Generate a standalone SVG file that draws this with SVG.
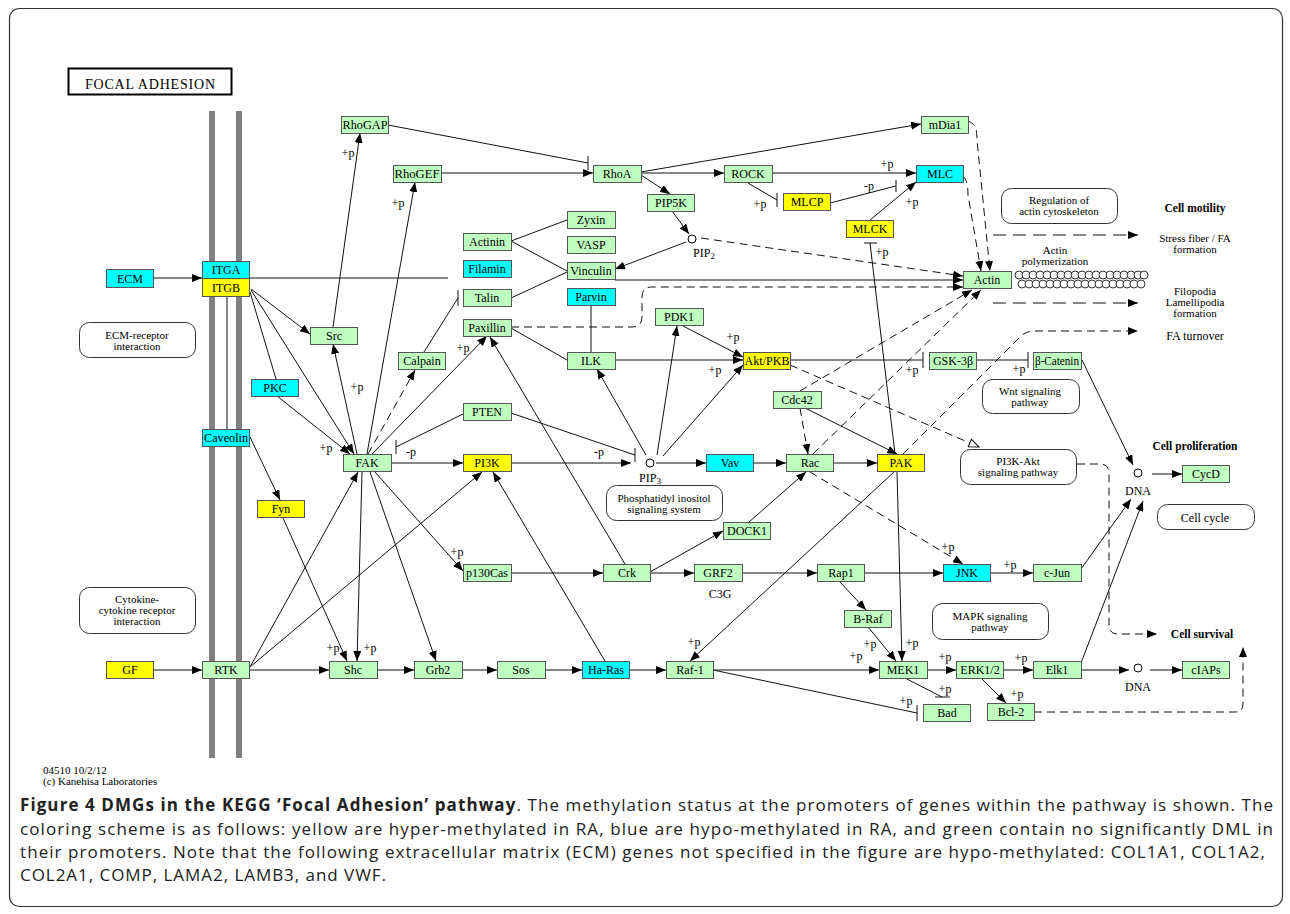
<svg xmlns="http://www.w3.org/2000/svg" width="1290" height="914" viewBox="0 0 1290 914">
<style>
.g{fill:#bfffbf}.c{fill:#00ffff}.y{fill:#ffff00}
.n rect{stroke:#555;stroke-width:1}
text{font-family:"Liberation Serif",serif;font-size:12px;text-anchor:middle;fill:#000}
.s{font-size:11px}
.b{font-weight:bold;font-size:11.5px}
.e line,.e path{stroke:#111;stroke-width:1;fill:none}
.e .d{stroke-dasharray:8,5}
.e .dl{stroke-dasharray:13,7}
.a{marker-end:url(#ar)}
.o{marker-end:url(#op)}
.rb{fill:#fff;stroke:#333;stroke-width:1}
.cap{font-family:"Open Sans",sans-serif;font-size:17px;text-anchor:start;fill:#222}
</style>
<defs>
<marker id="ar" viewBox="0 0 10 8" refX="10" refY="4" markerWidth="10" markerHeight="8" orient="auto" markerUnits="userSpaceOnUse"><path d="M0,0 L10,4 L0,8 z" fill="#000"/></marker>
<marker id="op" viewBox="0 0 12 10" refX="11" refY="5" markerWidth="12" markerHeight="10" orient="auto" markerUnits="userSpaceOnUse"><path d="M1,1 L11,5 L1,9 z" fill="#fff" stroke="#000"/></marker>
</defs>
<rect x="0" y="0" width="1290" height="914" fill="#fff"/>
<rect x="9.5" y="8.5" width="1273" height="898" rx="10" fill="none" stroke="#333" stroke-width="1.2"/>

<g id="title">
<rect x="68.5" y="68.5" width="163" height="26" fill="#fff" stroke="#000" stroke-width="2"/>
<text x="150" y="89" style="font-size:14px" textLength="130" lengthAdjust="spacing">FOCAL ADHESION</text>
</g>

<g id="membrane">
<rect x="209" y="111" width="6" height="647" fill="#808080"/>
<rect x="236" y="111" width="6" height="647" fill="#808080"/>
</g>

<g id="pathways">
<rect class="rb" x="79.5" y="322.5" width="116" height="35" rx="10"/>
<text class="s" x="137" y="339">ECM-receptor</text><text class="s" x="137" y="350">interaction</text>
<rect class="rb" x="79.5" y="587.5" width="116" height="46" rx="10"/>
<text class="s" x="137" y="603">Cytokine-</text><text class="s" x="137" y="614">cytokine receptor</text><text class="s" x="137" y="625">interaction</text>
<rect class="rb" x="1001.5" y="188.5" width="116" height="35" rx="10"/>
<text class="s" x="1059" y="204">Regulation of</text><text class="s" x="1059" y="215">actin cytoskeleton</text>
<rect class="rb" x="982.5" y="379.5" width="97" height="34" rx="10"/>
<text class="s" x="1030" y="395">Wnt signaling</text><text class="s" x="1030" y="406">pathway</text>
<rect class="rb" x="960.5" y="449.5" width="116" height="35" rx="10"/>
<text class="s" x="1018" y="465">PI3K-Akt</text><text class="s" x="1018" y="476">signaling pathway</text>
<rect class="rb" x="606.5" y="485.5" width="116" height="35" rx="10"/>
<text class="s" x="664" y="502">Phosphatidyl inositol</text><text class="s" x="664" y="513">signaling system</text>
<rect class="rb" x="1157.5" y="504.5" width="97" height="25" rx="10"/>
<text x="1205" y="522">Cell cycle</text>
<rect class="rb" x="932.5" y="603.5" width="116" height="36" rx="10"/>
<text class="s" x="990" y="620">MAPK signaling</text><text class="s" x="990" y="631">pathway</text>
</g>

<g id="connectors" class="e">
<line class="a" x1="153" y1="278" x2="202" y2="278"/>
<line x1="249" y1="278" x2="448" y2="278"/>
<line class="a" x1="153" y1="670" x2="202" y2="670"/>
<line class="a" x1="249" y1="670" x2="329" y2="670"/>
<line class="a" x1="377" y1="670" x2="414" y2="670"/>
<line class="a" x1="462" y1="670" x2="497" y2="670"/>
<line class="a" x1="545" y1="670" x2="582" y2="670"/>
<line class="a" x1="629" y1="670" x2="666" y2="670"/>
<line class="a" x1="713" y1="670" x2="879" y2="670"/>
<line class="a" x1="927" y1="670" x2="956" y2="670"/>
<line class="a" x1="1003" y1="670" x2="1033" y2="670"/>
<line class="a" x1="1081" y1="670" x2="1129" y2="670"/>
<line class="a" x1="1150" y1="670" x2="1182" y2="670"/>
<line class="a" x1="511" y1="573" x2="603" y2="573"/>
<line class="a" x1="650" y1="573" x2="694" y2="573"/>
<line class="a" x1="742" y1="573" x2="817" y2="573"/>
<line class="a" x1="864" y1="573" x2="943" y2="573"/>
<line class="a" x1="990" y1="573" x2="1033" y2="573"/>
<line class="a" x1="840" y1="582" x2="866" y2="610"/>
<line class="a" x1="868" y1="627" x2="896" y2="661"/>
<line class="a" x1="897" y1="472" x2="902" y2="661"/>
<line class="a" x1="894" y1="472" x2="690" y2="661"/>
<line class="a" x1="981" y1="678" x2="1006" y2="703"/>
<line class="a" x1="1081" y1="569" x2="1131" y2="499"/>
<line class="a" x1="1081" y1="663" x2="1143" y2="501"/>
<line class="a" x1="1082" y1="360" x2="1133" y2="465"/>
<line class="a" x1="1152" y1="474" x2="1182" y2="474"/>
<line class="a" x1="250" y1="437" x2="280" y2="500"/>
<line class="a" x1="283" y1="518" x2="347" y2="661"/>
<line class="a" x1="362" y1="472" x2="357" y2="661"/>
<line class="a" x1="370" y1="472" x2="436" y2="661"/>
<line class="a" x1="375" y1="472" x2="463" y2="571"/>
<line class="a" x1="250" y1="667" x2="358" y2="472"/>
<line class="a" x1="250" y1="667" x2="482" y2="472"/>
<line class="a" x1="605" y1="661" x2="493" y2="472"/>
<line class="a" x1="625" y1="564" x2="490" y2="337"/>
<line class="a" x1="650" y1="572" x2="723" y2="531"/>
<line class="a" x1="749" y1="522" x2="806" y2="472"/>
<line class="a" x1="656" y1="463" x2="706" y2="463"/>
<line class="a" x1="753" y1="463" x2="786" y2="463"/>
<line class="a" x1="833" y1="463" x2="877" y2="463"/>
<line class="a" x1="805" y1="408" x2="897" y2="454"/>
<line class="a" x1="391" y1="463" x2="463" y2="463"/>
<line class="a" x1="511" y1="463" x2="631" y2="463"/>
<line class="a" x1="657" y1="455" x2="677" y2="326"/>
<line class="a" x1="663" y1="456" x2="743" y2="365"/>
<line class="a" x1="646" y1="455" x2="597" y2="369"/>
<line class="a" x1="683" y1="326" x2="743" y2="357"/>
<line class="a" x1="615" y1="360" x2="743" y2="360"/>
<line class="a" x1="672" y1="211" x2="689" y2="234"/>
<line class="a" x1="686" y1="242" x2="615" y2="269"/>
<line class="a" x1="441" y1="173" x2="593" y2="173"/>
<line class="a" x1="641" y1="173" x2="724" y2="173"/>
<line class="a" x1="641" y1="172" x2="921" y2="124"/>
<line class="a" x1="641" y1="175" x2="670" y2="194"/>
<line class="a" x1="772" y1="173" x2="916" y2="173"/>
<line class="a" x1="870" y1="220" x2="916" y2="182"/>
<line class="a" x1="333" y1="327" x2="360" y2="133"/>
<line class="a" x1="367" y1="454" x2="415" y2="182"/>
<line class="a" x1="357" y1="454" x2="333" y2="344"/>
<line class="a" x1="372" y1="454" x2="487" y2="336"/>
<line class="a" x1="251" y1="289" x2="310" y2="334"/>
<line class="a" x1="251" y1="290" x2="354" y2="454"/>
<line class="a" x1="277" y1="396" x2="350" y2="454"/>
<line x1="250" y1="292" x2="276" y2="379"/>
<line class="a" x1="615" y1="280" x2="963" y2="280"/>
<line x1="511" y1="241" x2="567" y2="220"/>
<line x1="511" y1="241" x2="567" y2="271"/>
<line x1="511" y1="298" x2="567" y2="272"/>
<line x1="511" y1="328" x2="567" y2="360"/>
<line x1="591" y1="305" x2="591" y2="352"/>
<line x1="227" y1="296" x2="227" y2="429"/>
<line x1="870" y1="243" x2="895" y2="454"/><line x1="864" y1="243" x2="877" y2="243"/>
<line x1="388" y1="125" x2="588" y2="163"/><line x1="588" y1="156" x2="588" y2="170"/>
<line x1="748" y1="183" x2="777" y2="200"/><line x1="777" y1="193" x2="777" y2="207"/>
<line x1="830" y1="203" x2="896" y2="186"/><line x1="896" y1="180" x2="896" y2="192"/>
<line x1="424" y1="352" x2="458" y2="298"/><line x1="458" y1="290" x2="458" y2="306"/>
<line x1="463" y1="414" x2="396" y2="447"/><line x1="396" y1="440" x2="396" y2="454"/>
<line x1="511" y1="413" x2="635" y2="455"/><line x1="635" y1="448" x2="635" y2="462"/>
<line x1="790" y1="360" x2="923" y2="360"/><line x1="923" y1="352" x2="923" y2="368"/>
<line x1="976" y1="360" x2="1028" y2="360"/><line x1="1028" y1="352" x2="1028" y2="368"/>
<line x1="713" y1="670" x2="917" y2="713"/><line x1="917" y1="705" x2="917" y2="721"/>
<line x1="905" y1="678" x2="942" y2="697"/><line x1="935" y1="697" x2="950" y2="697"/>
<line class="d a" x1="368" y1="454" x2="415" y2="370"/>
<line class="d a" x1="800" y1="408" x2="808" y2="454"/>
<line class="d a" x1="701" y1="238" x2="963" y2="276"/>
<path class="d a" d="M511,327 H632 Q642,327 642,317 V297 Q642,287 652,287 H963"/>
<path class="d a" d="M968,121 C976,124 977,130 977,140 L990,271"/>
<path class="d a" d="M963,176 C967,180 968,186 968,195 L981,271"/>
<line class="d a" x1="800" y1="391" x2="972" y2="290"/>
<line class="d a" x1="813" y1="454" x2="981" y2="290"/>
<path class="d a" d="M903,454 L1020,337 Q1026,331 1034,331 L1138,331"/>
<line class="d o" x1="790" y1="365" x2="979" y2="447"/>
<line class="d a" x1="810" y1="472" x2="963" y2="564"/>
<path class="d a" d="M1077,464 H1100 Q1109,464 1109,473 V625 Q1109,634 1118,634 H1157"/>
<path class="d a" d="M1034,712 H1235 Q1243,712 1243,704 V647"/>
<line class="dl a" x1="993" y1="235" x2="1138" y2="235"/>
<line class="dl a" x1="993" y1="303" x2="1138" y2="303"/>
</g>

<g id="compounds" fill="#fff" stroke="#000">
<circle cx="692" cy="239" r="4"/>
<circle cx="650" cy="463" r="4"/>
<circle cx="1138" cy="473" r="4"/>
<circle cx="1138" cy="668" r="4"/>
</g>
<g id="compound-labels">
<text x="704" y="257">PIP<tspan font-size="9" dy="2">2</tspan></text>
<text x="650" y="482">PIP<tspan font-size="9" dy="2">3</tspan></text>
<text x="1138" y="495">DNA</text>
<text x="1138" y="691">DNA</text>
<text x="720" y="598">C3G</text>
</g>

<g id="actin-chain" fill="#fff" stroke="#000" stroke-width="0.8">
<circle cx="1019" cy="275" r="4"/><circle cx="1026" cy="275" r="4"/><circle cx="1033" cy="275" r="4"/><circle cx="1040" cy="275" r="4"/><circle cx="1047" cy="275" r="4"/><circle cx="1054" cy="275" r="4"/><circle cx="1061" cy="275" r="4"/><circle cx="1068" cy="275" r="4"/><circle cx="1075" cy="275" r="4"/><circle cx="1082" cy="275" r="4"/><circle cx="1089" cy="275" r="4"/><circle cx="1096" cy="275" r="4"/><circle cx="1103" cy="275" r="4"/><circle cx="1110" cy="275" r="4"/><circle cx="1117" cy="275" r="4"/><circle cx="1124" cy="275" r="4"/><circle cx="1131" cy="275" r="4"/><circle cx="1138" cy="275" r="4"/><circle cx="1144" cy="275" r="4"/>
<circle cx="1022" cy="284" r="4"/><circle cx="1029" cy="284" r="4"/><circle cx="1036" cy="284" r="4"/><circle cx="1043" cy="284" r="4"/><circle cx="1050" cy="284" r="4"/><circle cx="1057" cy="284" r="4"/><circle cx="1064" cy="284" r="4"/><circle cx="1071" cy="284" r="4"/><circle cx="1078" cy="284" r="4"/><circle cx="1085" cy="284" r="4"/><circle cx="1092" cy="284" r="4"/><circle cx="1099" cy="284" r="4"/><circle cx="1106" cy="284" r="4"/><circle cx="1113" cy="284" r="4"/><circle cx="1120" cy="284" r="4"/><circle cx="1127" cy="284" r="4"/><circle cx="1134" cy="284" r="4"/><circle cx="1141" cy="284" r="4"/>
</g>

<g id="outcomes">
<text class="b" x="1195" y="212">Cell motility</text>
<text class="s" x="1195" y="242">Stress fiber / FA</text><text class="s" x="1195" y="253">formation</text>
<text class="s" x="1055" y="254">Actin</text><text class="s" x="1055" y="265">polymerization</text>
<text class="s" x="1195" y="295">Filopodia</text><text class="s" x="1195" y="306">Lamellipodia</text><text class="s" x="1195" y="317">formation</text>
<text x="1195" y="340">FA turnover</text>
<text class="b" x="1195" y="450">Cell proliferation</text>
<text class="b" x="1202" y="638">Cell survival</text>
</g>

<g id="edge-labels">
<text x="348" y="157">+p</text><text x="398" y="207">+p</text><text x="887" y="168">+p</text>
<text x="760" y="208">+p</text><text x="869" y="190">-p</text><text x="912" y="206">+p</text>
<text x="882" y="256">+p</text><text x="357" y="391">+p</text><text x="326" y="452">+p</text>
<text x="463" y="352">+p</text><text x="411" y="456">-p</text><text x="599" y="456">-p</text>
<text x="733" y="341">+p</text><text x="715" y="374">+p</text><text x="912" y="374">+p</text>
<text x="1019" y="373">+p</text><text x="457" y="556">+p</text><text x="333" y="652">+p</text>
<text x="370" y="652">+p</text><text x="694" y="646">+p</text><text x="870" y="648">+p</text>
<text x="856" y="660">+p</text><text x="912" y="647">+p</text><text x="945" y="661">+p</text>
<text x="945" y="693">+p</text><text x="906" y="705">+p</text><text x="948" y="551">+p</text>
<text x="1010" y="569">+p</text><text x="1021" y="662">+p</text><text x="1017" y="698">+p</text>
</g>

<g class="n">
<g id="ECM"><rect class="c" x="106.5" y="269.5" width="47" height="18"/><text x="130" y="283">ECM</text></g>
<g id="ITGA"><rect class="c" x="202.5" y="261.5" width="47" height="17"/><text x="226" y="274">ITGA</text></g>
<g id="ITGB"><rect class="y" x="202.5" y="278.5" width="47" height="18"/><text x="226" y="292">ITGB</text></g>
<g id="PKC"><rect class="c" x="251.5" y="379.5" width="47" height="17"/><text x="275" y="392">PKC</text></g>
<g id="Caveolin"><rect class="c" x="202.5" y="429.5" width="47" height="17"/><text x="226" y="442" textLength="44" lengthAdjust="spacingAndGlyphs">Caveolin</text></g>
<g id="Fyn"><rect class="y" x="257.5" y="500.5" width="47" height="17"/><text x="281" y="513">Fyn</text></g>
<g id="GF"><rect class="y" x="106.5" y="661.5" width="47" height="17"/><text x="130" y="674">GF</text></g>
<g id="RTK"><rect class="g" x="202.5" y="661.5" width="47" height="17"/><text x="226" y="674">RTK</text></g>
<g id="RhoGAP"><rect class="g" x="341.5" y="116.5" width="47" height="17"/><text x="365" y="129" textLength="45" lengthAdjust="spacingAndGlyphs">RhoGAP</text></g>
<g id="RhoGEF"><rect class="g" x="393.5" y="165.5" width="48" height="17"/><text x="417" y="178" textLength="45" lengthAdjust="spacingAndGlyphs">RhoGEF</text></g>
<g id="RhoA"><rect class="g" x="593.5" y="165.5" width="48" height="17"/><text x="617" y="178">RhoA</text></g>
<g id="Src"><rect class="g" x="310.5" y="327.5" width="47" height="17"/><text x="334" y="340">Src</text></g>
<g id="Calpain"><rect class="g" x="398.5" y="352.5" width="47" height="17"/><text x="422" y="365">Calpain</text></g>
<g id="FAK"><rect class="g" x="343.5" y="454.5" width="48" height="17"/><text x="367" y="467">FAK</text></g>
<g id="Actinin"><rect class="g" x="463.5" y="233.5" width="48" height="17"/><text x="487" y="246">Actinin</text></g>
<g id="Filamin"><rect class="c" x="463.5" y="260.5" width="48" height="17"/><text x="487" y="273">Filamin</text></g>
<g id="Talin"><rect class="g" x="463.5" y="289.5" width="48" height="17"/><text x="487" y="302">Talin</text></g>
<g id="Paxillin"><rect class="g" x="463.5" y="319.5" width="48" height="17"/><text x="487" y="332">Paxillin</text></g>
<g id="PTEN"><rect class="g" x="463.5" y="403.5" width="48" height="17"/><text x="487" y="416">PTEN</text></g>
<g id="PI3K"><rect class="y" x="463.5" y="454.5" width="48" height="17"/><text x="487" y="467">PI3K</text></g>
<g id="p130Cas"><rect class="g" x="463.5" y="564.5" width="48" height="17"/><text x="487" y="577">p130Cas</text></g>
<g id="Shc"><rect class="g" x="329.5" y="661.5" width="48" height="17"/><text x="353" y="674">Shc</text></g>
<g id="Grb2"><rect class="g" x="414.5" y="661.5" width="48" height="17"/><text x="438" y="674">Grb2</text></g>
<g id="Sos"><rect class="g" x="497.5" y="661.5" width="48" height="17"/><text x="521" y="674">Sos</text></g>
<g id="Ha-Ras"><rect class="c" x="582.5" y="661.5" width="47" height="17"/><text x="606" y="674">Ha-Ras</text></g>
<g id="Zyxin"><rect class="g" x="567.5" y="211.5" width="48" height="17"/><text x="591" y="224">Zyxin</text></g>
<g id="VASP"><rect class="g" x="567.5" y="236.5" width="48" height="17"/><text x="591" y="249">VASP</text></g>
<g id="Vinculin"><rect class="g" x="567.5" y="262.5" width="48" height="17"/><text x="591" y="275">Vinculin</text></g>
<g id="Parvin"><rect class="c" x="567.5" y="288.5" width="48" height="17"/><text x="591" y="301">Parvin</text></g>
<g id="ILK"><rect class="g" x="567.5" y="352.5" width="48" height="17"/><text x="591" y="365">ILK</text></g>
<g id="Crk"><rect class="g" x="603.5" y="564.5" width="47" height="17"/><text x="627" y="577">Crk</text></g>
<g id="PDK1"><rect class="g" x="655.5" y="308.5" width="48" height="17"/><text x="679" y="321">PDK1</text></g>
<g id="PIP5K"><rect class="g" x="647.5" y="194.5" width="47" height="17"/><text x="671" y="207">PIP5K</text></g>
<g id="AktPKB"><rect class="y" x="743.5" y="352.5" width="47" height="17"/><text x="767" y="365" textLength="45" lengthAdjust="spacingAndGlyphs">Akt/PKB</text></g>
<g id="Vav"><rect class="c" x="706.5" y="454.5" width="47" height="17"/><text x="730" y="467">Vav</text></g>
<g id="DOCK1"><rect class="g" x="723.5" y="522.5" width="47" height="17"/><text x="747" y="535">DOCK1</text></g>
<g id="GRF2"><rect class="g" x="694.5" y="564.5" width="48" height="17"/><text x="718" y="577">GRF2</text></g>
<g id="Raf-1"><rect class="g" x="666.5" y="661.5" width="47" height="17"/><text x="690" y="674">Raf-1</text></g>
<g id="ROCK"><rect class="g" x="724.5" y="165.5" width="48" height="17"/><text x="748" y="178">ROCK</text></g>
<g id="MLCP"><rect class="y" x="783.5" y="193.5" width="47" height="17"/><text x="807" y="206">MLCP</text></g>
<g id="Cdc42"><rect class="g" x="773.5" y="391.5" width="48" height="17"/><text x="797" y="404">Cdc42</text></g>
<g id="Rac"><rect class="g" x="786.5" y="454.5" width="47" height="17"/><text x="810" y="467">Rac</text></g>
<g id="Rap1"><rect class="g" x="817.5" y="564.5" width="47" height="17"/><text x="841" y="577">Rap1</text></g>
<g id="B-Raf"><rect class="g" x="844.5" y="610.5" width="47" height="17"/><text x="868" y="623">B-Raf</text></g>
<g id="MEK1"><rect class="g" x="879.5" y="661.5" width="48" height="17"/><text x="903" y="674">MEK1</text></g>
<g id="PAK"><rect class="y" x="877.5" y="454.5" width="47" height="17"/><text x="901" y="467">PAK</text></g>
<g id="MLCK"><rect class="y" x="846.5" y="220.5" width="47" height="17"/><text x="870" y="233">MLCK</text></g>
<g id="MLC"><rect class="c" x="916.5" y="165.5" width="47" height="17"/><text x="940" y="178">MLC</text></g>
<g id="mDia1"><rect class="g" x="921.5" y="116.5" width="47" height="17"/><text x="945" y="129">mDia1</text></g>
<g id="Bad"><rect class="g" x="923.5" y="704.5" width="47" height="17"/><text x="947" y="717">Bad</text></g>
<g id="GSK-3b"><rect class="g" x="929.5" y="352.5" width="47" height="17"/><text x="953" y="365">GSK-3β</text></g>
<g id="JNK"><rect class="c" x="943.5" y="564.5" width="47" height="17"/><text x="967" y="577">JNK</text></g>
<g id="ERK12"><rect class="g" x="956.5" y="661.5" width="47" height="17"/><text x="980" y="674">ERK1/2</text></g>
<g id="Actin"><rect class="g" x="963.5" y="271.5" width="48" height="17"/><text x="987" y="284">Actin</text></g>
<g id="Bcl-2"><rect class="g" x="987.5" y="703.5" width="47" height="17"/><text x="1011" y="716">Bcl-2</text></g>
<g id="c-Jun"><rect class="g" x="1033.5" y="564.5" width="48" height="17"/><text x="1057" y="577">c-Jun</text></g>
<g id="Elk1"><rect class="g" x="1033.5" y="661.5" width="48" height="17"/><text x="1057" y="674">Elk1</text></g>
<g id="b-Catenin"><rect class="g" x="1033.5" y="352.5" width="48" height="17"/><text x="1057" y="365" textLength="44" lengthAdjust="spacingAndGlyphs">β-Catenin</text></g>
<g id="CycD"><rect class="g" x="1182.5" y="465.5" width="47" height="17"/><text x="1206" y="478">CycD</text></g>
<g id="cIAPs"><rect class="g" x="1182.5" y="661.5" width="47" height="17"/><text x="1206" y="674">cIAPs</text></g>
</g>

<g id="credits">
<text x="43" y="774" style="text-anchor:start;font-size:11px">04510 10/2/12</text>
<text x="43" y="785" style="text-anchor:start;font-size:11px">(c) Kanehisa Laboratories</text>
</g>

<g id="caption">
<text class="cap" x="20" y="811" textLength="1253" lengthAdjust="spacing"><tspan font-weight="bold">Figure 4 DMGs in the KEGG ‘Focal Adhesion’ pathway</tspan>. The methylation status at the promoters of genes within the pathway is shown. The</text>
<text class="cap" x="20" y="835" textLength="1253" lengthAdjust="spacing">coloring scheme is as follows: yellow are hyper-methylated in RA, blue are hypo-methylated in RA, and green contain no significantly DML in</text>
<text class="cap" x="20" y="858" textLength="1245" lengthAdjust="spacing">their promoters. Note that the following extracellular matrix (ECM) genes not specified in the figure are hypo-methylated: COL1A1, COL1A2,</text>
<text class="cap" x="20" y="881" textLength="366" lengthAdjust="spacing">COL2A1, COMP, LAMA2, LAMB3, and VWF.</text>
</g>
</svg>
